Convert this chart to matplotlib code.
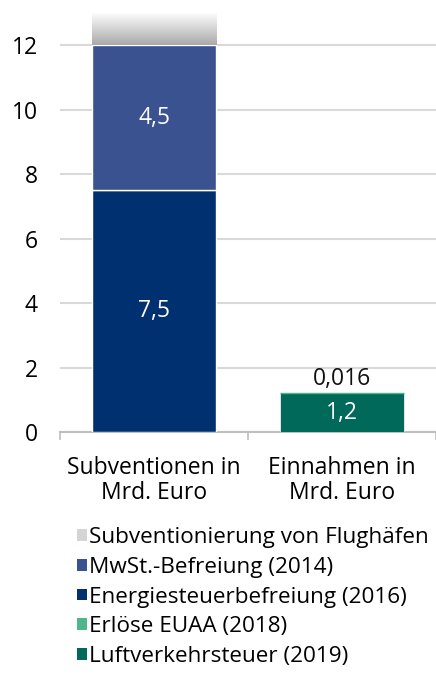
import numpy as np
import matplotlib as mpl
from matplotlib import pyplot as plt
from matplotlib.patches import Patch

plt.rcParams["font.family"] = ["Open Sans", "DejaVu Sans"]

categories = ["Subventionen in\nMrd. Euro", "Einnahmen in\nMrd. Euro"]
series = [
    "Subventionierung von Flughäfen",
    "MwSt.-Befreiung (2014)",
    "Energiesteuerbefreiung (2016)",
    "Erlöse EUAA (2018)",
    "Luftverkehrsteuer (2019)",
]
# stacked from bottom: energy tax, VAT, airports (unknown, drawn faded)
energie = [7.5, 0.0]
mwst = [4.5, 0.0]
flughafen = [1.0, 0.0]
luftverkehr = [0.0, 1.2]
euaa = [0.0, 0.016]

colors = {
    "Subventionierung von Flughäfen": "#d4d4d4",
    "MwSt.-Befreiung (2014)": "#3b5290",
    "Energiesteuerbefreiung (2016)": "#00306f",
    "Erlöse EUAA (2018)": "#4fb58b",
    "Luftverkehrsteuer (2019)": "#00695a",
}

fig = plt.figure(figsize=(4.36, 6.75), dpi=100)
ax = fig.add_axes([60 / 436, 1 - 432 / 675, 1 - 60 / 436, 432 / 675])

x = np.arange(len(categories))
w = 0.66
fs = 16.5
fs_leg = 16.2

b_en = ax.bar(x[:1], energie[:1], w, color=colors[series[2]],
              edgecolor="white", linewidth=1, zorder=3)
b_mw = ax.bar(x[:1], mwst[:1], w, bottom=energie[:1], color=colors[series[1]],
              edgecolor="white", linewidth=1, zorder=3)
bottom_fh = energie[0] + mwst[0]
b_fh = ax.bar(x[:1], flughafen[:1], w, bottom=[bottom_fh], color="none",
              edgecolor="none", zorder=3)

# faded gradient for the airport subsidies (amount not known)
grad = np.linspace(0, 1, 256).reshape(-1, 1)
cmap = mpl.colors.LinearSegmentedColormap.from_list("fade", ["#a9a9a9", "#ffffff"])
im = ax.imshow(grad, cmap=cmap, origin="lower", aspect="auto", zorder=3,
               extent=[x[0] - w / 2, x[0] + w / 2, bottom_fh, bottom_fh + flughafen[0]])
im.set_clip_path(b_fh[0])

b_lv = ax.bar(x[1:], luftverkehr[1:], w, color=colors[series[4]],
              edgecolor="white", linewidth=0.5, zorder=3)
b_eu = ax.bar(x[1:], euaa[1:], w, bottom=luftverkehr[1:], color=colors[series[3]],
              edgecolor=colors[series[3]], linewidth=1, zorder=3)

# value labels
ax.text(x[0], energie[0] / 2, "7,5", ha="center", va="center", color="white", fontsize=fs)
ax.text(x[0], energie[0] + mwst[0] / 2, "4,5", ha="center", va="center",
        color="white", fontsize=fs)
ax.text(x[1], luftverkehr[1] / 2, "1,2", ha="center", va="center", color="white", fontsize=fs)
ax.text(x[1], luftverkehr[1] + euaa[1] + 0.05, "0,016", ha="center", va="bottom",
        color="#111111", fontsize=fs)

ax.set_xlim(-0.5, 1.5)
ax.set_ylim(0, 13.4)
ax.set_yticks(np.arange(0, 13, 2))
ax.set_yticklabels([str(v) for v in range(0, 13, 2)])
ax.yaxis.grid(True, color="#d9d9d9", linewidth=1.5, zorder=0)
ax.set_axisbelow(True)

ax.set_xticks(x)
ax.set_xticklabels(categories, linespacing=1.1)
ax.set_xticks([-0.5, 0.5, 1.5], minor=True)
ax.tick_params(axis="x", which="major", length=0, pad=17, labelsize=fs)
ax.tick_params(axis="x", which="minor", length=6, width=1.2, color="#bfbfbf")
ax.tick_params(axis="y", length=0, pad=16, labelsize=fs)

for s in ["top", "right", "left"]:
    ax.spines[s].set_visible(False)
ax.spines["bottom"].set_color("#bfbfbf")
ax.spines["bottom"].set_linewidth(1.5)

handles = [Patch(facecolor=colors[s], edgecolor="none") for s in series]
fig.legend(handles, series, loc="upper left", bbox_to_anchor=(77 / 436, 1 - 527 / 675),
           frameon=False, fontsize=fs_leg, handlelength=0.43, handleheight=0.43,
           handletextpad=0.1, labelspacing=0.39, borderaxespad=0, borderpad=0)

fig.savefig("out.png", dpi=100)
